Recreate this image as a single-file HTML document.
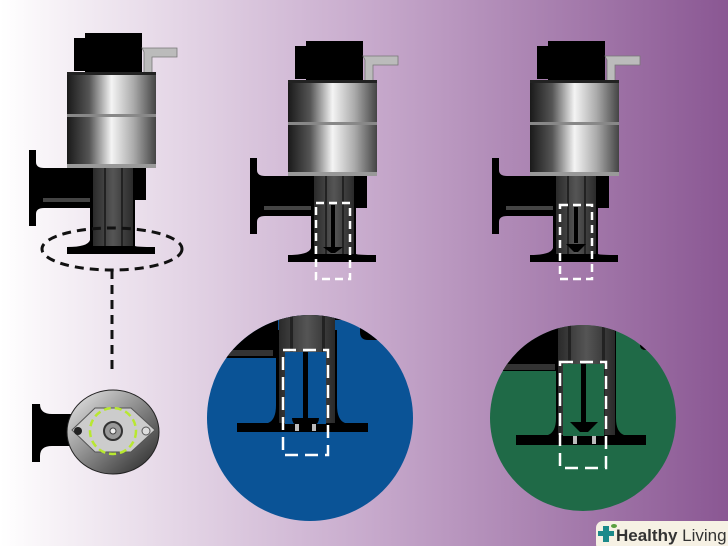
<!DOCTYPE html>
<html><head><meta charset="utf-8"><style>html,body{margin:0;padding:0}svg{display:block}</style></head><body>
<svg width="728" height="546" viewBox="0 0 728 546" xmlns="http://www.w3.org/2000/svg">
<defs>
<linearGradient id="bg" x1="0" x2="1" y1="0" y2="0">
<stop offset="0" stop-color="#ffffff"/><stop offset="0.08" stop-color="#f6f1f6"/><stop offset="0.5" stop-color="#c8abcd"/><stop offset="1" stop-color="#8a5793"/></linearGradient>
<linearGradient id="cyl" x1="0" x2="1" y1="0" y2="0">
<stop offset="0" stop-color="#1a1a1a"/><stop offset="0.25" stop-color="#555"/><stop offset="0.5" stop-color="#f4f4f4"/><stop offset="0.75" stop-color="#aaa"/><stop offset="1" stop-color="#444"/></linearGradient>
<linearGradient id="stem" x1="0" x2="1" y1="0" y2="0">
<stop offset="0" stop-color="#2a2a2a"/><stop offset="0.5" stop-color="#555"/><stop offset="1" stop-color="#2a2a2a"/></linearGradient>
<linearGradient id="disk" x1="0" x2="1" y1="0" y2="1">
<stop offset="0" stop-color="#eee"/><stop offset="0.5" stop-color="#888"/><stop offset="1" stop-color="#222"/></linearGradient>
<g id="valve">
<rect x="85" y="33" width="57" height="40" fill="#000"/>
<rect x="74" y="38" width="12" height="33" fill="#000"/>
<path d="M142 48 H177 V57 H152 V73 H144 V52 Z" fill="#bbb" stroke="#777" stroke-width="0.8"/>
<path d="M29 150 H36 V162 Q36 168 44 168 H146 V200 H135 V246 Q137 247 155 247 V254 H67 V247 Q88 247 90 240 V208 H44 Q36 208 36 214 V226 H29 Z" fill="#000"/>
<rect x="43" y="198" width="47" height="4" fill="#444"/>
<rect x="93" y="168" width="40" height="78" fill="url(#stem)"/>
<rect x="104" y="168" width="2" height="78" fill="#222"/>
<rect x="121" y="168" width="2" height="78" fill="#222"/>
<rect x="67" y="72" width="89" height="96" fill="url(#cyl)"/>
<rect x="67" y="72" width="89" height="3" fill="#222"/>
<rect x="67" y="114" width="89" height="3" fill="#888"/>
<rect x="67" y="164" width="89" height="4" fill="#999"/>
</g>
<clipPath id="cb"><circle cx="310" cy="418" r="103"/></clipPath>
<clipPath id="cg"><circle cx="583" cy="418" r="93"/></clipPath>
</defs>
<rect width="728" height="546" fill="url(#bg)"/>

<use href="#valve"/>
<g stroke="#111" stroke-width="3" stroke-dasharray="9,6" fill="none">
<ellipse cx="112" cy="249" rx="70" ry="21"/>
<line x1="112" y1="270" x2="112" y2="372"/>
</g>

<use href="#valve" transform="translate(221,8)"/>
<g stroke="#fff" stroke-width="2.5" stroke-dasharray="8,5" fill="none"><rect x="316" y="203" width="34" height="76"/></g>
<rect x="331" y="205" width="4" height="42" fill="#000"/><path d="M323 247 H343 L335 253 H331 Z" fill="#000"/>

<use href="#valve" transform="translate(463,8)"/>
<g stroke="#fff" stroke-width="2.5" stroke-dasharray="8,5" fill="none"><rect x="560" y="205" width="32" height="74"/></g>
<rect x="574" y="207" width="4" height="36" fill="#000"/><path d="M566 244 H586 L578 252 H574 Z" fill="#000"/>

<!-- detail disk -->
<path d="M32 404 H40 Q40 414 52 414 H75 V446 H52 Q40 446 40 456 V462 H32 Z" fill="#000"/>
<ellipse cx="113" cy="432" rx="46" ry="42" fill="url(#disk)" stroke="#222" stroke-width="1"/>
<path d="M72 430 L95 408 H131 L155 430 L131 452 H95 Z" fill="#ccc" stroke="#555" stroke-width="1"/>
<circle cx="78" cy="431" r="4" fill="#222"/><circle cx="146" cy="431" r="4" fill="#ddd" stroke="#555"/>
<circle cx="113" cy="431" r="23" fill="none" stroke="#b8e830" stroke-width="2.5" stroke-dasharray="7,4"/>
<circle cx="113" cy="431" r="9" fill="#999" stroke="#333" stroke-width="2"/><circle cx="113" cy="431" r="3" fill="#eee" stroke="#444"/>

<!-- blue circle -->
<g clip-path="url(#cb)">
<rect x="200" y="310" width="220" height="220" fill="#0a5396"/>
<path d="M200 310 H360 V332 Q360 340 368 340 H420 V320 H200 Z" fill="#000"/>
<rect x="200" y="310" width="78" height="48" fill="#000"/>
<rect x="200" y="350" width="73" height="6" fill="#333"/>
<path d="M237 423 H268 Q276 420 276 405 V330 H337 V405 Q337 420 345 423 H368 V432 H237 Z" fill="#000"/>
<rect x="279" y="310" width="56" height="113" fill="url(#stem)"/>
<rect x="290" y="310" width="3" height="113" fill="#222"/><rect x="322" y="310" width="3" height="113" fill="#222"/>
<rect x="285" y="352" width="41" height="72" fill="#0a5396"/>
<rect x="303" y="352" width="5" height="66" fill="#000"/>
<path d="M292 418 H319 Q319 424 314 425 H297 Q292 424 292 418 Z" fill="#000"/>
<rect x="295" y="424" width="4" height="7" fill="#bbb"/><rect x="312" y="424" width="4" height="7" fill="#bbb"/>
<rect x="283" y="350" width="45" height="105" fill="none" stroke="#fff" stroke-width="2.5" stroke-dasharray="13,7"/>
</g>

<!-- green circle -->
<g clip-path="url(#cg)">
<rect x="485" y="315" width="200" height="210" fill="#1f6a47"/>
<path d="M485 315 H640 V345 Q640 350 646 350 H690 V315 Z" fill="#000"/>
<rect x="485" y="315" width="74" height="56" fill="#000"/>
<rect x="485" y="364" width="70" height="6" fill="#333"/>
<path d="M516 435 H548 Q556 432 556 418 V330 H616 V418 Q616 432 624 435 H646 V445 H516 Z" fill="#000"/>
<rect x="558" y="315" width="57" height="120" fill="url(#stem)"/>
<rect x="568" y="315" width="3" height="120" fill="#222"/><rect x="602" y="315" width="3" height="120" fill="#222"/>
<rect x="563" y="364" width="41" height="72" fill="#1f6a47"/>
<rect x="581" y="364" width="5" height="58" fill="#000"/>
<path d="M570 422 H598 L588 432 H580 Z" fill="#000"/>
<rect x="573" y="436" width="4" height="8" fill="#bbb"/><rect x="592" y="436" width="4" height="8" fill="#bbb"/>
<rect x="560" y="362" width="46" height="106" fill="none" stroke="#fff" stroke-width="2.5" stroke-dasharray="13,7"/>
</g>

<!-- logo -->
<rect x="596" y="521" width="140" height="30" rx="7" fill="#f6f1e4"/>
<rect x="598" y="531" width="16" height="5" fill="#1b8a8a"/><rect x="603" y="526" width="6" height="16" fill="#1b8a8a"/>
<ellipse cx="614" cy="526" rx="3" ry="2" fill="#5aa040"/>
<text x="616" y="541" font-family="Liberation Sans, sans-serif" font-size="17" fill="#333"><tspan font-weight="bold">Healthy</tspan> Living</text>
</svg>
</body></html>
